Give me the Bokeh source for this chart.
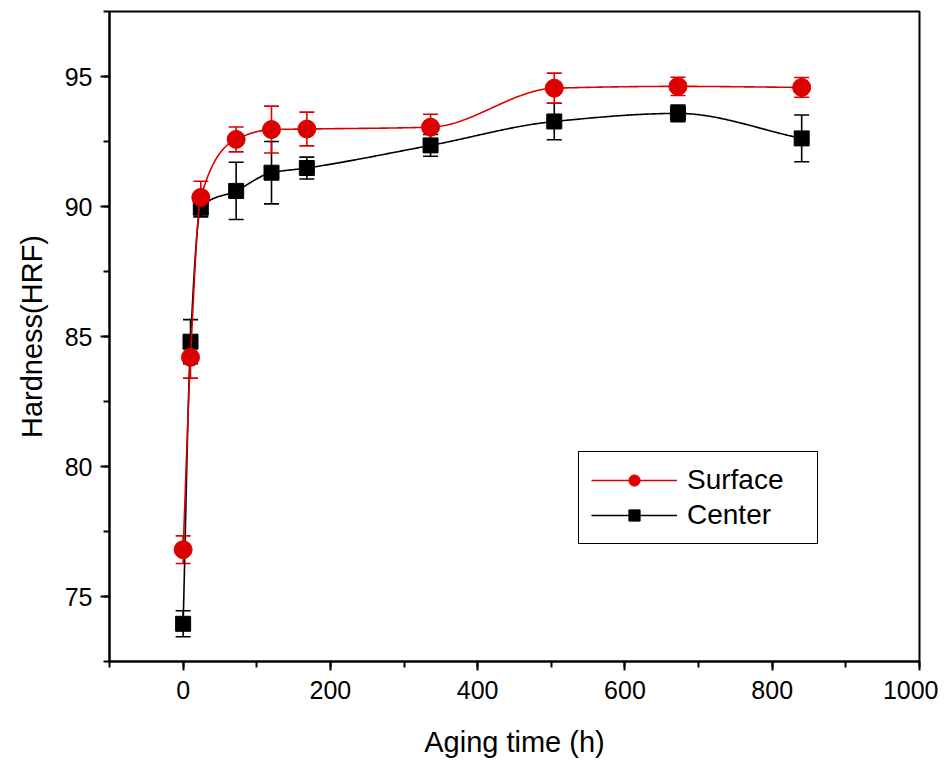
import numpy as np
from bokeh.plotting import figure
from bokeh.models import (ColumnDataSource, Whisker, TeeHead, Legend, LegendItem,
                          SingleIntervalTicker, Range1d)
from bokeh.embed import file_html
from bokeh.resources import INLINE

# ---- data ----
aging_time = [0, 10, 24, 72, 120, 168, 336, 504, 672, 840]
surface = [76.8, 84.2, 90.35, 92.58, 92.96, 92.98, 93.05, 94.55, 94.62, 94.58]
surface_err = [0.53, 0.8, 0.62, 0.48, 0.9, 0.65, 0.5, 0.58, 0.35, 0.38]
center = [73.95, 84.8, 89.95, 90.6, 91.3, 91.48, 92.35, 93.27, 93.58, 92.62]
center_err = [0.5, 0.85, 0.35, 1.1, 1.2, 0.42, 0.42, 0.7, 0.32, 0.9]

RED = "#dd0000"
FONT = "Liberation Sans"


def pchip(x, y, xs):
    x = np.asarray(x, float)
    y = np.asarray(y, float)
    h = np.diff(x)
    d = np.diff(y) / h
    n = len(x)
    m = np.zeros(n)
    for k in range(1, n - 1):
        if d[k - 1] * d[k] <= 0:
            m[k] = 0.0
        else:
            w1 = 2 * h[k] + h[k - 1]
            w2 = h[k] + 2 * h[k - 1]
            m[k] = (w1 + w2) / (w1 / d[k - 1] + w2 / d[k])
    m[0] = d[0]
    m[-1] = d[-1]
    out = np.empty_like(xs)
    for i, xv in enumerate(xs):
        k = min(max(np.searchsorted(x, xv) - 1, 0), n - 2)
        t = (xv - x[k]) / h[k]
        h00 = 2 * t**3 - 3 * t**2 + 1
        h10 = t**3 - 2 * t**2 + t
        h01 = -2 * t**3 + 3 * t**2
        h11 = t**3 - t**2
        out[i] = h00 * y[k] + h10 * h[k] * m[k] + h01 * y[k + 1] + h11 * h[k] * m[k + 1]
    return out


xs = np.concatenate([np.linspace(aging_time[0], aging_time[3], 200),
                     np.linspace(aging_time[3], aging_time[-1], 400)[1:]])

p = figure(width=938, height=760, output_backend="svg", toolbar_location=None,
           x_range=Range1d(-100, 1000), y_range=Range1d(72.5, 97.5),
           min_border_left=109, min_border_right=19, min_border_top=11,
           min_border_bottom=97)
p.background_fill_color = "white"
p.border_fill_color = "white"
p.outline_line_color = "black"
p.outline_line_width = 2
p.xgrid.visible = False
p.ygrid.visible = False

p.xaxis.ticker = SingleIntervalTicker(interval=200, num_minor_ticks=2)
p.yaxis.ticker = SingleIntervalTicker(interval=5, num_minor_ticks=2)
for ax in (p.xaxis[0], p.yaxis[0]):
    ax.axis_line_width = 2
    ax.axis_line_color = "black"
    ax.major_tick_line_width = 2
    ax.minor_tick_line_width = 2
    ax.major_tick_out = 9
    ax.major_tick_in = 0
    ax.minor_tick_out = 6
    ax.minor_tick_in = 0
    ax.major_label_text_font = FONT
    ax.major_label_text_font_size = "25px"
    ax.major_label_text_color = "black"
    ax.axis_label_text_font = FONT
    ax.axis_label_text_font_size = "29px"
    ax.axis_label_text_font_style = "normal"
    ax.axis_label_text_color = "black"

p.xaxis.axis_label = "Aging time (h)"
p.yaxis.axis_label = "Hardness(HRF)"
p.xaxis.major_label_standoff = 10
p.xaxis.axis_label_standoff = 24
p.yaxis.major_label_standoff = 8
p.yaxis.axis_label_standoff = 14

c_src = ColumnDataSource(dict(x=aging_time, y=center,
                              lo=[v - e for v, e in zip(center, center_err)],
                              hi=[v + e for v, e in zip(center, center_err)]))
s_src = ColumnDataSource(dict(x=aging_time, y=surface,
                              lo=[v - e for v, e in zip(surface, surface_err)],
                              hi=[v + e for v, e in zip(surface, surface_err)]))

c_line = p.line(xs, pchip(aging_time, center, xs), line_color="black", line_width=1.6)
p.add_layout(Whisker(source=c_src, base="x", lower="lo", upper="hi",
                     line_color="black", line_width=1.6,
                     upper_head=TeeHead(size=15, line_color="black", line_width=1.6),
                     lower_head=TeeHead(size=15, line_color="black", line_width=1.6)))
c_pts = p.scatter("x", "y", source=c_src, marker="square", size=15,
                  fill_color="black", line_color="black")

s_line = p.line(xs, pchip(aging_time, surface, xs), line_color=RED, line_width=1.6)
p.add_layout(Whisker(source=s_src, base="x", lower="lo", upper="hi",
                     line_color=RED, line_width=1.6,
                     upper_head=TeeHead(size=15, line_color=RED, line_width=1.6),
                     lower_head=TeeHead(size=15, line_color=RED, line_width=1.6)))
s_pts = p.scatter("x", "y", source=s_src, marker="circle", size=18,
                  fill_color=RED, line_color=RED)

legend = Legend(items=[LegendItem(label="Surface", renderers=[s_line, s_pts]),
                       LegendItem(label="Center", renderers=[c_line, c_pts])],
                location=(469, 117))
legend.label_text_font = FONT
legend.label_text_font_size = "28px"
legend.label_text_color = "black"
legend.glyph_width = 86
legend.glyph_height = 28
legend.label_height = 28
legend.label_width = 118
legend.label_standoff = 10
legend.spacing = 3
legend.padding = 12
legend.margin = 0
legend.border_line_color = "black"
legend.border_line_alpha = 1
legend.border_line_width = 1.5
legend.background_fill_alpha = 1
p.add_layout(legend)

open("out.html", "w").write(file_html(p, INLINE))
